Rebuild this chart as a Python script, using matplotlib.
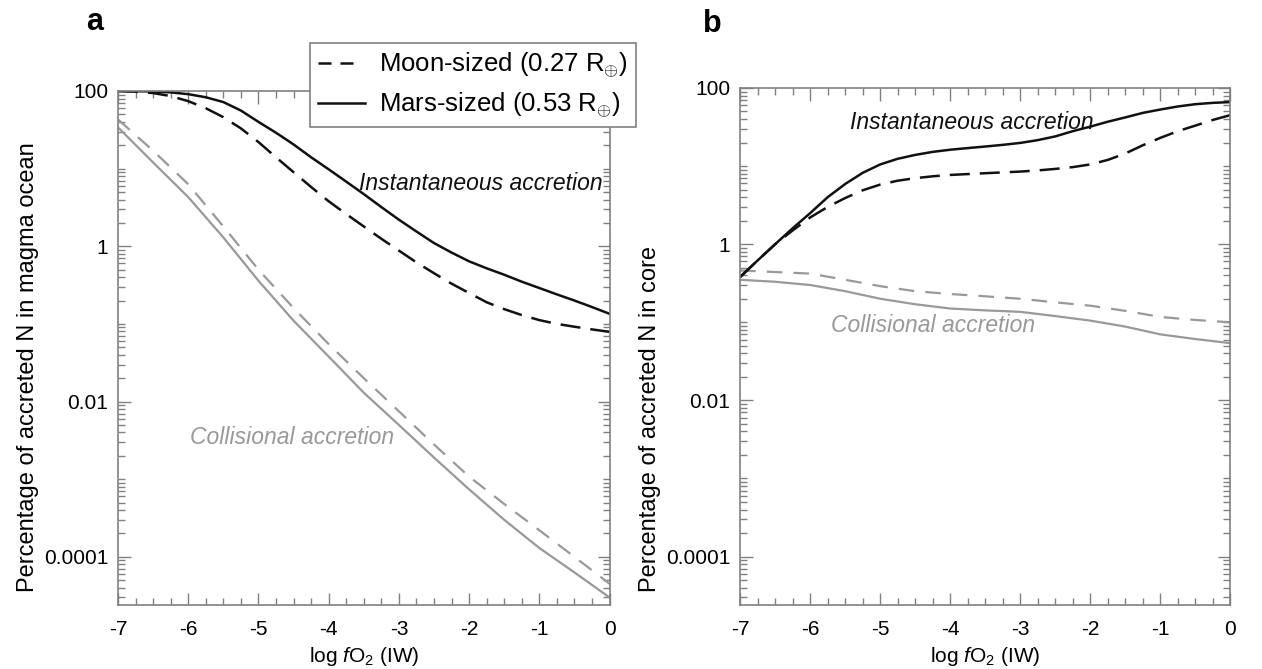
import numpy as np
import matplotlib
matplotlib.use("Agg")
import matplotlib.pyplot as plt
from matplotlib.lines import Line2D
from matplotlib.ticker import FixedLocator, LogLocator, NullFormatter, FixedFormatter, MultipleLocator

plt.rcParams['font.family'] = ['Liberation Sans', 'DejaVu Sans']
plt.rcParams['mathtext.fontset'] = 'custom'
plt.rcParams['mathtext.rm'] = 'Liberation Sans'
plt.rcParams['mathtext.it'] = 'Liberation Sans:italic'

# ---- data ----
x_fine = [-7, -6.75, -6.5, -6.25, -6, -5.75, -5.5, -5.25, -5, -4.75, -4.5, -4.25, -4, -3.75,
          -3.5, -3.25, -3, -2.75, -2.5, -2.25, -2, -1.75, -1.5, -1.25, -1, -0.75, -0.5, -0.25, 0]
x_half = [-7, -6.5, -6, -5.5, -5, -4.5, -4, -3.5, -3, -2.5, -2, -1.5, -1, -0.5, 0]

# panel a: magma ocean (instantaneous on x_fine, collisional on x_half)
a_mars_inst = [100, 99.5, 98.5, 96, 91, 83, 72, 56, 40, 29, 20.5, 14, 9.8, 6.8,
               4.7, 3.2, 2.2, 1.55, 1.1, 0.83, 0.64, 0.52, 0.43, 0.35, 0.29, 0.24, 0.2, 0.165, 0.135]
a_moon_inst = [100, 98, 94, 86, 74, 60, 46, 33, 22, 14, 9, 5.8, 3.8, 2.6,
               1.8, 1.25, 0.88, 0.62, 0.45, 0.33, 0.25, 0.19, 0.155, 0.13, 0.112, 0.1, 0.092, 0.085, 0.079]
a_mars_coll = [34, 12, 4.3, 1.3, 0.36, 0.11, 0.038, 0.013, 0.005, 0.0019, 7.4e-4, 3.0e-4, 1.3e-4, 6.3e-5, 3.0e-5]
a_moon_coll = [43, 17, 6.3, 1.8, 0.5, 0.16, 0.055, 0.02, 0.0075, 0.0028, 0.00108, 4.8e-4, 2.2e-4, 1.0e-4, 4.5e-5]

# panel b: core
b_mars_inst = [0.38, 0.62, 1.0, 1.6, 2.5, 4.0, 5.9, 8.2, 10.5, 12.4, 13.9, 15.2, 16.2, 17,
               17.8, 18.7, 19.8, 21.5, 24, 28, 32, 37, 42, 48, 53, 58, 62, 64.5, 66]
b_moon_inst = [0.38, 0.62, 1.0, 1.5, 2.2, 3.0, 3.9, 4.9, 5.8, 6.5, 7.0, 7.4, 7.7, 7.9,
               8.1, 8.3, 8.5, 8.8, 9.2, 9.7, 10.5, 12, 14.5, 18.5, 23, 28, 33, 39, 45]
b_mars_coll = [0.35, 0.33, 0.30, 0.25, 0.20, 0.17, 0.15, 0.142, 0.136, 0.12, 0.105, 0.088, 0.07, 0.061, 0.054]
b_moon_coll = [0.46, 0.44, 0.42, 0.35, 0.29, 0.25, 0.23, 0.215, 0.20, 0.18, 0.163, 0.14, 0.117, 0.107, 0.10]

ytick_vals = [1e2, 1, 1e-2, 1e-4]
ytick_labels = ['100', '1', '0.01', '0.0001']
xtick_vals = [-7, -6, -5, -4, -3, -2, -1, 0]
xtick_labels = ['-7', '-6', '-5', '-4', '-3', '-2', '-1', '0']

legend_labels = [r'Moon-sized (0.27 R$_{\oplus}$)', r'Mars-sized (0.53 R$_{\oplus}$)']

BLACK = '#111111'
GRAY = '#999999'
SPINE = '#808080'
DASH_BLACK = (0, (8, 4))
DASH_GRAY = (0, (7, 5))

fig = plt.figure(figsize=(12.62, 6.69), dpi=100)
axa = fig.add_axes([0.0935, 0.0957, 0.3895, 0.7683])
axb = fig.add_axes([0.5865, 0.0957, 0.3885, 0.7728])

def style(ax):
    ax.set_yscale('log')
    ax.set_xlim(-7, 0)
    ax.set_ylim(2.4e-5, 100)
    ax.yaxis.set_major_locator(FixedLocator(ytick_vals))
    ax.yaxis.set_major_formatter(FixedFormatter(ytick_labels))
    ax.yaxis.set_minor_locator(LogLocator(base=10, subs=np.arange(1, 10), numticks=50))
    ax.yaxis.set_minor_formatter(NullFormatter())
    ax.xaxis.set_major_locator(FixedLocator(xtick_vals))
    ax.xaxis.set_major_formatter(FixedFormatter(xtick_labels))
    ax.xaxis.set_minor_locator(MultipleLocator(0.25))
    ax.tick_params(which='both', direction='in', top=True, right=True, color=SPINE, width=1)
    ax.tick_params(which='major', length=9, labelsize=15)
    ax.tick_params(axis='x', which='major', pad=11)
    ax.tick_params(axis='y', which='major', pad=7)
    ax.tick_params(which='minor', length=5)
    for s in ax.spines.values():
        s.set_color(SPINE)
        s.set_linewidth(1.2)
    ax.set_xlabel(r'log $\mathit{f}$O$_2$ (IW)', fontsize=15, labelpad=4)

style(axa)
style(axb)

axa.plot(x_half, a_moon_coll, color=GRAY, lw=1.6, ls=DASH_GRAY)
axa.plot(x_half, a_mars_coll, color=GRAY, lw=1.6, ls='-')
axa.plot(x_fine, a_moon_inst, color=BLACK, lw=1.8, ls=DASH_BLACK)
axa.plot(x_fine, a_mars_inst, color=BLACK, lw=1.8, ls='-')

axb.plot(x_half, b_moon_coll, color=GRAY, lw=1.6, ls=DASH_GRAY)
axb.plot(x_half, b_mars_coll, color=GRAY, lw=1.6, ls='-')
axb.plot(x_fine, b_moon_inst, color=BLACK, lw=1.8, ls=DASH_BLACK)
axb.plot(x_fine, b_mars_inst, color=BLACK, lw=1.8, ls='-')

fig.text(28 / 1262, 1 - 592 / 669, 'Percentage of accreted N in magma ocean', rotation=90,
         ha='center', va='bottom', fontsize=17)
fig.text(650 / 1262, 1 - 592 / 669, 'Percentage of accreted N in core', rotation=90,
         ha='center', va='bottom', fontsize=17)

axa.text(0.985, 0.82, 'Instantaneous accretion', transform=axa.transAxes, ha='right', va='center',
         fontsize=16.5, style='italic', color=BLACK)
axa.text(0.146, 0.325, 'Collisional accretion', transform=axa.transAxes, ha='left', va='center',
         fontsize=16.5, style='italic', color=GRAY)
axb.text(0.225, 0.934, 'Instantaneous accretion', transform=axb.transAxes, ha='left', va='center',
         fontsize=16.5, style='italic', color=BLACK)
axb.text(0.185, 0.54, 'Collisional accretion', transform=axb.transAxes, ha='left', va='center',
         fontsize=16.5, style='italic', color=GRAY)

h1 = Line2D([], [], color=BLACK, lw=1.8, ls=(0, (5.2, 3.6, 5.2, 30)))
h2 = Line2D([], [], color=BLACK, lw=1.8, ls='-')
leg = fig.legend([h1, h2], legend_labels, loc='upper left',
                 bbox_to_anchor=(310 / 1262, 1 - 43 / 669),
                 fontsize=18.5, frameon=True, fancybox=False, handlelength=1.85, handletextpad=0.55,
                 borderpad=0.3, labelspacing=0.4, borderaxespad=0)
leg.get_frame().set_edgecolor(SPINE)
leg.get_frame().set_linewidth(1.2)
leg.get_frame().set_facecolor('white')
leg.get_frame().set_alpha(1)

fig.text(95 / 1262, 1 - 22 / 669, 'a', fontsize=22, fontweight='bold', ha='center', va='center')
fig.text(712 / 1262, 1 - 24 / 669, 'b', fontsize=22, fontweight='bold', ha='center', va='center')

fig.savefig('out.png', dpi=100)
